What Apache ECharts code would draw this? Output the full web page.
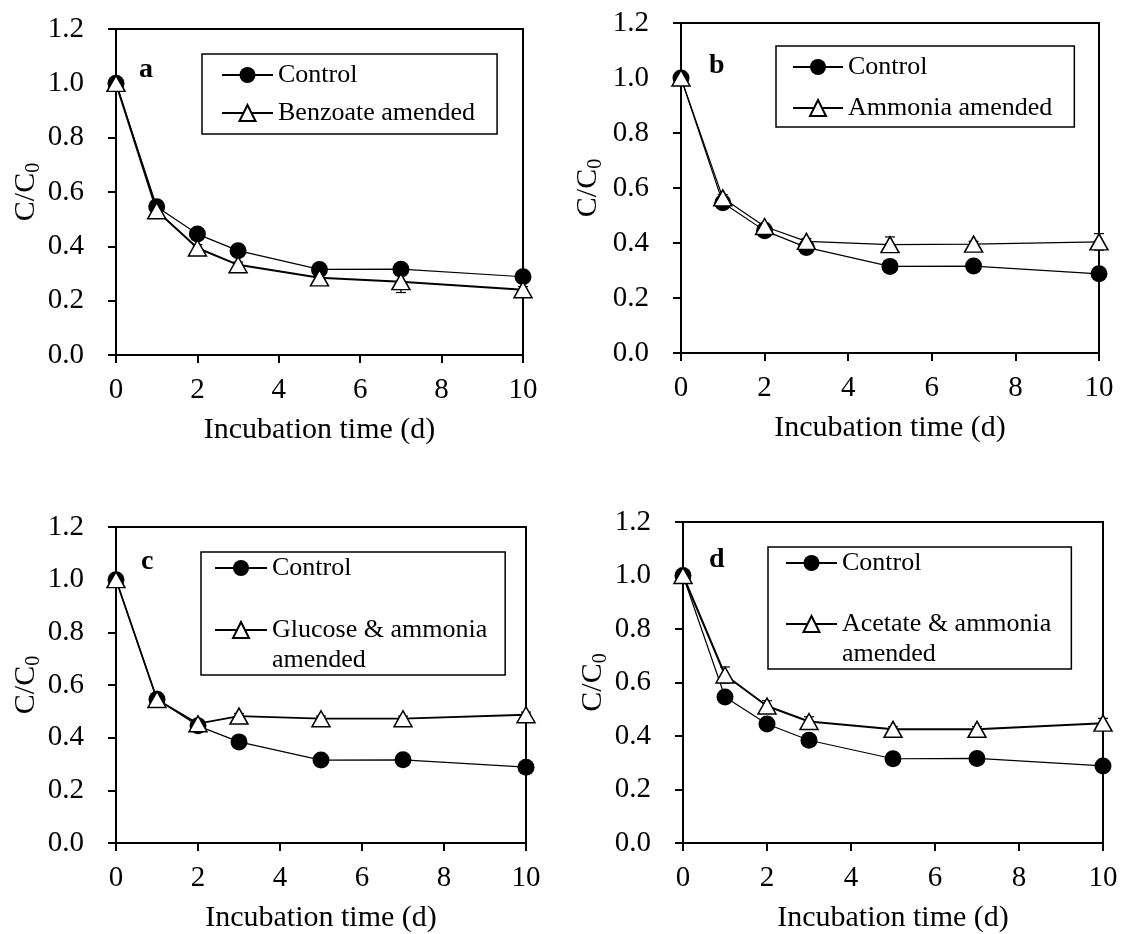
<!DOCTYPE html>
<html>
<head>
<meta charset="utf-8">
<title>C/C0 vs incubation time</title>
<script src="https://cdn.jsdelivr.net/npm/echarts@6/dist/echarts.min.js"></script>
<style>
  html, body { margin: 0; padding: 0; background: #fff; }
  #chart { width: 1122px; height: 934px; }
</style>
</head>
<body>
<div id="chart"></div>
<script>
// ---- data ----
const days = [0, 1, 2, 3, 5, 7, 10];

const control = [1.0, 0.546, 0.445, 0.384, 0.315, 0.316, 0.288];

const benzoate = [1.0, 0.531, 0.394, 0.332, 0.284, 0.270, 0.240];
const benzoateErr = [0, 0.010, 0.012, 0.010, 0.010, 0.040, 0.012];

const ammonia = [1.0, 0.564, 0.460, 0.406, 0.394, 0.396, 0.404];
const ammoniaErr = [0, 0.012, 0.012, 0.010, 0.028, 0.010, 0.030];

const glucose = [1.0, 0.545, 0.453, 0.482, 0.472, 0.472, 0.487];
const glucoseErr = [0, 0.010, 0.010, 0.010, 0.010, 0.010, 0.010];

const acetate = [1.0, 0.628, 0.512, 0.454, 0.425, 0.425, 0.448];
const acetateErr = [0, 0.030, 0.020, 0.018, 0.010, 0.010, 0.018];

const panelTags = ['a', 'b', 'c', 'd'];
const treatmentNames = ['Benzoate amended', 'Ammonia amended', 'Glucose & ammonia amended', 'Acetate & ammonia amended'];
const legendLabels = ['Benzoate amended', 'Ammonia amended', 'Glucose & ammonia\namended', 'Acetate & ammonia\namended'];
const treatmentValues = [benzoate, ammonia, glucose, acetate];
const treatmentErrors = [benzoateErr, ammoniaErr, glucoseErr, acetateErr];

const xAxisTitle = 'Incubation time (d)';
const xRange = { min: 0, max: 10, interval: 2 };
const yRange = { min: 0, max: 1.2, interval: 0.2 };

// ---- layout & style ----
const FONT = '"Liberation Serif", "Times New Roman", Times, serif';
const layout = [
  { grid: { left: 116, top: 29, width: 407, height: 326 }, yNameGap: 69,
    legend: { left: 202, top: 54, padding: [6, 22, 6, 19], itemGap: 8, itemWidth: 51 },
    tag: { x: 139, y: 70 }, treatedWidth: 2 },
  { grid: { left: 681, top: 23, width: 418, height: 330 }, yNameGap: 75,
    legend: { left: 776, top: 46, padding: [6, 22, 4, 16], itemGap: 11, itemWidth: 50 },
    tag: { x: 709, y: 66 }, treatedWidth: 1.2 },
  { grid: { left: 116, top: 527, width: 410, height: 317 }, yNameGap: 69,
    legend: { left: 201, top: 552, padding: [1, 18, 0, 13], itemGap: 2, itemWidth: 52 },
    tag: { x: 141, y: 562 }, treatedWidth: 1.8 },
  { grid: { left: 683, top: 522, width: 420, height: 321 }, yNameGap: 69,
    legend: { left: 768, top: 547, padding: [1, 20, 0, 17], itemGap: 1, itemWidth: 51 },
    tag: { x: 709, y: 560 }, treatedWidth: 2 }
];

function errorBarItem(params, api) {
  const x = api.value(0);
  const top = api.coord([x, api.value(2)]);
  const bot = api.coord([x, api.value(1)]);
  const w = 5;
  const style = { stroke: '#000', lineWidth: 1.2 };
  return {
    type: 'group',
    children: [
      { type: 'line', shape: { x1: top[0], y1: top[1], x2: bot[0], y2: bot[1] }, style },
      { type: 'line', shape: { x1: top[0] - w, y1: top[1], x2: top[0] + w, y2: top[1] }, style },
      { type: 'line', shape: { x1: bot[0] - w, y1: bot[1], x2: bot[0] + w, y2: bot[1] }, style }
    ]
  };
}

const grids = [], xAxes = [], yAxes = [], series = [], legends = [], graphics = [];

layout.forEach((L, i) => {
  grids.push(Object.assign({ show: true, borderColor: '#000', borderWidth: 2, backgroundColor: 'transparent' }, L.grid));

  xAxes.push({
    type: 'value', gridIndex: i, min: xRange.min, max: xRange.max, interval: xRange.interval,
    name: xAxisTitle, nameLocation: 'middle', nameGap: 60,
    nameTextStyle: { fontFamily: FONT, fontSize: 30, color: '#000' },
    axisLine: { show: true, onZero: false, lineStyle: { color: '#000', width: 2 } },
    axisTick: { show: true, inside: false, length: 8, lineStyle: { color: '#000', width: 2 } },
    axisLabel: { fontFamily: FONT, fontSize: 29, color: '#000', margin: 21 },
    splitLine: { show: false }
  });

  yAxes.push({
    type: 'value', gridIndex: i, min: yRange.min, max: yRange.max, interval: yRange.interval,
    name: '{m|C/C}{s|0}', nameLocation: 'middle', nameRotate: 90, nameGap: L.yNameGap,
    nameTextStyle: {
      fontFamily: FONT, fontSize: 30, color: '#000',
      rich: {
        m: { fontFamily: FONT, fontSize: 30, color: '#000' },
        s: { fontFamily: FONT, fontSize: 20, color: '#000', padding: [16, 0, 0, 0] }
      }
    },
    axisLine: { show: true, onZero: false, lineStyle: { color: '#000', width: 2 } },
    axisTick: { show: true, inside: false, length: 8, lineStyle: { color: '#000', width: 2 } },
    axisLabel: { fontFamily: FONT, fontSize: 29, color: '#000', margin: 32,
                 formatter: v => v.toFixed(1) },
    splitLine: { show: false }
  });

  const vals = treatmentValues[i];
  const errs = treatmentErrors[i];

  series.push({
    type: 'custom', name: 'error ' + panelTags[i], xAxisIndex: i, yAxisIndex: i, z: 1,
    renderItem: errorBarItem, silent: true,
    encode: { x: 0, y: [1, 2] },
    data: days.map((d, k) => [d, vals[k] - errs[k], vals[k] + errs[k]]).filter((r, k) => errs[k] > 0)
  });

  series.push({
    type: 'line', name: 'Control', xAxisIndex: i, yAxisIndex: i, z: 2,
    data: days.map((d, k) => [d, control[k]]),
    symbol: 'circle', symbolSize: 17,
    itemStyle: { color: '#000', borderWidth: 0 },
    lineStyle: { color: '#000', width: 1.2 }
  });

  series.push({
    type: 'line', name: treatmentNames[i], xAxisIndex: i, yAxisIndex: i, z: 3,
    data: days.map((d, k) => [d, vals[k]]),
    symbol: 'triangle', symbolSize: [18, 16],
    itemStyle: { color: '#fff', borderColor: '#000', borderWidth: 1.5 },
    lineStyle: { color: '#000', width: L.treatedWidth }
  });

  const label = legendLabels[i];
  legends.push({
    orient: 'vertical', left: L.legend.left, top: L.legend.top,
    padding: L.legend.padding, itemGap: L.legend.itemGap,
    itemWidth: L.legend.itemWidth, itemHeight: 20,
    borderColor: '#000', borderWidth: 1.5, borderRadius: 0, backgroundColor: '#fff',
    selectedMode: false,
    data: ['Control', treatmentNames[i]],
    formatter: name => name === 'Control' ? name : (label.indexOf('\n') >= 0 ? '\n' + label : label),
    textStyle: { fontFamily: FONT, fontSize: 26, lineHeight: 30, color: '#000' }
  });

  graphics.push({
    type: 'text', x: L.tag.x, y: L.tag.y,
    style: { text: panelTags[i], fontFamily: FONT, fontSize: 28, fontWeight: 'bold',
             fill: '#000', verticalAlign: 'middle', align: 'left' }
  });
});

const chart = echarts.init(document.getElementById('chart'), null, { renderer: 'canvas' });
chart.setOption({
  backgroundColor: '#fff',
  animation: false,
  grid: grids,
  xAxis: xAxes,
  yAxis: yAxes,
  legend: legends,
  series: series,
  graphic: graphics
});
</script>
</body>
</html>
